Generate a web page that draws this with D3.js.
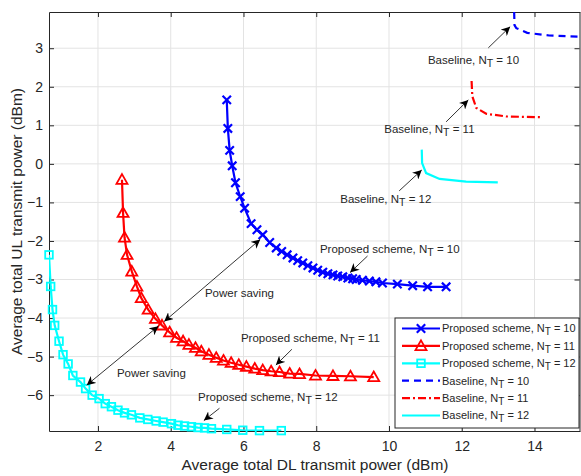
<!DOCTYPE html>
<html>
<head>
<meta charset="utf-8">
<script src="https://cdn.jsdelivr.net/npm/d3@7"></script>
<style>
  body { margin: 0; background: #fff; }
  svg text { font-family: "Liberation Sans", Arial, sans-serif; }
</style>
</head>
<body>
<div id="chart"></div>
<script>
// valeurs
const xTicks = [2, 4, 6, 8, 10, 12, 14];
const yTicks = [-6, -5, -4, -3, -2, -1, 0, 1, 2, 3];

// proposed scheme, N_T = 10
const prop10X = [5.54, 5.57, 5.62, 5.69, 5.78, 5.91, 6.03, 6.21, 6.37, 6.53, 6.72, 6.90, 7.05, 7.20, 7.36, 7.49, 7.63, 7.77, 7.91, 8.04, 8.18, 8.32, 8.46, 8.59, 8.73, 8.87, 9.00, 9.10, 9.27, 9.46, 9.64, 9.82, 10.23, 10.65, 11.06, 11.57];
const prop10Y = [1.66, 0.92, 0.35, -0.05, -0.49, -0.85, -1.15, -1.55, -1.71, -1.84, -2.04, -2.18, -2.27, -2.36, -2.44, -2.51, -2.57, -2.64, -2.70, -2.76, -2.81, -2.85, -2.88, -2.91, -2.93, -2.96, -2.98, -3.00, -3.02, -3.04, -3.06, -3.09, -3.12, -3.16, -3.19, -3.19];
// proposed scheme, N_T = 11
const prop11X = [2.66, 2.69, 2.73, 2.80, 2.93, 3.07, 3.19, 3.38, 3.58, 3.76, 3.97, 4.16, 4.34, 4.50, 4.68, 4.84, 5.05, 5.25, 5.45, 5.66, 5.87, 6.08, 6.31, 6.53, 6.76, 6.99, 7.27, 7.54, 7.98, 8.46, 8.94, 9.58];
const prop11Y = [-0.41, -1.27, -1.91, -2.36, -2.79, -3.18, -3.48, -3.78, -4.02, -4.19, -4.37, -4.51, -4.60, -4.69, -4.77, -4.86, -4.95, -5.03, -5.10, -5.16, -5.21, -5.26, -5.31, -5.35, -5.38, -5.40, -5.44, -5.45, -5.49, -5.50, -5.51, -5.53];
// proposed scheme, N_T = 12
const prop12X = [0.654, 0.70, 0.75, 0.81, 0.93, 1.04, 1.18, 1.31, 1.52, 1.66, 1.84, 2.03, 2.20, 2.37, 2.55, 2.73, 2.92, 3.15, 3.37, 3.60, 3.79, 4.02, 4.20, 4.38, 4.57, 4.75, 4.93, 5.12, 5.54, 5.98, 6.44, 7.04];
const prop12Y = [-2.36, -3.18, -3.78, -4.19, -4.60, -4.95, -5.19, -5.49, -5.66, -5.83, -6.00, -6.09, -6.22, -6.30, -6.39, -6.46, -6.51, -6.59, -6.63, -6.67, -6.70, -6.74, -6.78, -6.80, -6.82, -6.84, -6.85, -6.87, -6.89, -6.91, -6.92, -6.92];

// baselines
const base10X = [13.44, 13.45, 13.50, 13.80, 14.40, 15.25];
const base10Y = [3.94, 3.60, 3.52, 3.40, 3.33, 3.30];
const base11X = [12.27, 12.29, 12.40, 12.67, 13.22, 14.18];
const base11Y = [2.15, 1.75, 1.45, 1.30, 1.23, 1.21];
const base12X = [10.90, 10.91, 11.02, 11.39, 12.12, 12.99];
const base12Y = [0.37, 0.02, -0.24, -0.39, -0.46, -0.48];

const width = 581, height = 476;
const margin = { left: 49, right: 1, top: 12, bottom: 45 };

const x = d3.scaleLinear().domain([0.654, 15.25]).range([margin.left, width - margin.right]);
const y = d3.scaleLinear().domain([-6.93, 3.94]).range([height - margin.bottom, margin.top]);

const svg = d3.select("#chart").append("svg").attr("width", width).attr("height", height);

svg.append("defs").append("clipPath").attr("id", "clip")
  .append("rect").attr("x", margin.left).attr("y", margin.top)
  .attr("width", x.range()[1] - margin.left).attr("height", y.range()[0] - margin.top);

// pointe de fleche
const defs = svg.select("defs");
defs.append("marker").attr("id", "head").attr("viewBox", "0 0 10 10")
  .attr("refX", 10).attr("refY", 5).attr("markerWidth", 9).attr("markerHeight", 9)
  .attr("markerUnits", "userSpaceOnUse").attr("orient", "auto-start-reverse")
  .append("path").attr("d", "M0,0 L10,5 L0,10 L3,5 Z").attr("fill", "#000");

// grille
const grid = svg.append("g");
grid.selectAll(".gx").data(xTicks).enter().append("line")
  .attr("x1", d => x(d)).attr("x2", d => x(d))
  .attr("y1", y.range()[1]).attr("y2", y.range()[0])
  .attr("stroke", "#e3e3e3").attr("stroke-width", 1);
grid.selectAll(".gy").data(yTicks).enter().append("line")
  .attr("x1", x.range()[0]).attr("x2", x.range()[1])
  .attr("y1", d => y(d)).attr("y2", d => y(d))
  .attr("stroke", "#e3e3e3").attr("stroke-width", 1);

// axes (ticks vers l'interieur, style matlab)
const tickLen = 5;
const axB = svg.append("g").attr("transform", `translate(0,${y.range()[0]})`)
  .call(d3.axisBottom(x).tickValues(xTicks).tickSizeInner(-tickLen).tickSizeOuter(0).tickPadding(10));
const axT = svg.append("g").attr("transform", `translate(0,${y.range()[1]})`)
  .call(d3.axisTop(x).tickValues(xTicks).tickSizeInner(-tickLen).tickSizeOuter(0).tickFormat(""));
const axL = svg.append("g").attr("transform", `translate(${x.range()[0]},0)`)
  .call(d3.axisLeft(y).tickValues(yTicks).tickSizeInner(-tickLen).tickSizeOuter(0).tickPadding(6));
const axR = svg.append("g").attr("transform", `translate(${x.range()[1] - 0.5},0)`)
  .call(d3.axisRight(y).tickValues(yTicks).tickSizeInner(-tickLen).tickSizeOuter(0).tickFormat(""));
[axB, axT, axL, axR].forEach(a => {
  a.select(".domain").attr("stroke", "#262626").attr("stroke-width", 1);
  a.selectAll(".tick line").attr("stroke", "#262626");
  a.selectAll("text").attr("fill", "#262626").style("font-size", "14px");
});

// labels des axes
svg.append("text").attr("x", (x.range()[0] + x.range()[1]) / 2 + 0.5).attr("y", 470)
  .attr("text-anchor", "middle").attr("fill", "#262626").style("font-size", "15.5px")
  .text("Average total DL transmit power (dBm)");
svg.append("text").attr("transform", `translate(22,${(y.range()[0] + y.range()[1]) / 2}) rotate(-90)`)
  .attr("text-anchor", "middle").attr("fill", "#262626").style("font-size", "15.5px")
  .text("Average total UL transmit power (dBm)");

const plot = svg.append("g").attr("clip-path", "url(#clip)");

function toPts(xs, ys) {
  return xs.map((v, i) => [v, ys[i]]);
}
const line = d3.line().x(d => x(d[0])).y(d => y(d[1]));

const series = [
  { pts: toPts(prop10X, prop10Y), color: "#0000ff", dash: null, marker: "x", label: "Proposed scheme, N", nt: "10" },
  { pts: toPts(prop11X, prop11Y), color: "#ff0000", dash: null, marker: "tri", label: "Proposed scheme, N", nt: "11" },
  { pts: toPts(prop12X, prop12Y), color: "#00ffff", dash: null, marker: "sq", label: "Proposed scheme, N", nt: "12" },
  { pts: toPts(base10X, base10Y), color: "#0000ff", dash: "7,5", marker: null, label: "Baseline, N", nt: "10" },
  { pts: toPts(base11X, base11Y), color: "#ff0000", dash: "8,3,2,3", marker: null, label: "Baseline, N", nt: "11" },
  { pts: toPts(base12X, base12Y), color: "#00ffff", dash: null, marker: null, label: "Baseline, N", nt: "12" }
];

function drawMarker(g, type, cx, cy, color) {
  if (type === "x") {
    const s = 4.2;
    g.append("path").attr("d", `M${cx - s},${cy - s}L${cx + s},${cy + s}M${cx - s},${cy + s}L${cx + s},${cy - s}`)
      .attr("stroke", color).attr("stroke-width", 2.2).attr("fill", "none");
  } else if (type === "tri") {
    const s = 5.5;
    g.append("path").attr("d", `M${cx},${cy - s}L${cx + s},${cy + s * 0.75}L${cx - s},${cy + s * 0.75}Z`)
      .attr("stroke", color).attr("stroke-width", 1.8).attr("fill", "none");
  } else if (type === "sq") {
    const s = 3.8;
    g.append("rect").attr("x", cx - s).attr("y", cy - s).attr("width", 2 * s).attr("height", 2 * s)
      .attr("stroke", color).attr("stroke-width", 1.8).attr("fill", "none");
  }
}

series.forEach(s => {
  plot.append("path").datum(s.pts).attr("d", line)
    .attr("fill", "none").attr("stroke", s.color).attr("stroke-width", 2.2)
    .attr("stroke-dasharray", s.dash);
});
const mk = svg.append("g");
series.forEach(s => {
  if (!s.marker) return;
  s.pts.forEach(p => drawMarker(mk, s.marker, x(p[0]), y(p[1]), s.color));
});

// annotations: texte (gauche, milieu) et fleches en unites de donnees
const annText = [
  { t: "Baseline, N", nt: "10", x: 11.07, y: 2.69 },
  { t: "Baseline, N", nt: "11", x: 9.87, y: 0.90 },
  { t: "Baseline, N", nt: "12", x: 8.66, y: -0.92 },
  { t: "Proposed scheme, N", nt: "10", x: 8.10, y: -2.22 },
  { t: "Proposed scheme, N", nt: "11", x: 5.93, y: -4.52 },
  { t: "Proposed scheme, N", nt: "12", x: 4.75, y: -6.04 },
  { t: "Power saving", nt: null, x: 4.94, y: -3.36 },
  { t: "Power saving", nt: null, x: 2.52, y: -5.43 }
];
const annArrows = [
  { x1: 12.73, y1: 3.01, x2: 13.33, y2: 3.56, both: false },
  { x1: 11.57, y1: 1.09, x2: 12.18, y2: 1.66, both: false },
  { x1: 10.28, y1: -0.70, x2: 10.90, y2: -0.16, both: false },
  { x1: 9.41, y1: -2.39, x2: 8.93, y2: -2.82, both: false },
  { x1: 7.33, y1: -4.81, x2: 6.89, y2: -5.22, both: false },
  { x1: 5.34, y1: -6.34, x2: 4.91, y2: -6.66, both: false },
  { x1: 6.46, y1: -1.96, x2: 3.82, y2: -4.09, both: true },
  { x1: 3.66, y1: -4.21, x2: 1.69, y2: -5.74, both: true }
];

function subText(g, px, py, t, nt, size, anchor) {
  const tx = g.append("text").attr("x", px).attr("y", py).attr("dy", "0.35em")
    .attr("fill", "#262626").style("font-size", size + "px").attr("text-anchor", anchor || "start");
  tx.append("tspan").text(t);
  if (nt) {
    tx.append("tspan").attr("dy", 3).style("font-size", (size - 1) + "px").text("T");
    tx.append("tspan").attr("dy", -3).text(" = " + nt);
  }
  return tx;
}

const ann = svg.append("g");
annArrows.forEach(a => {
  ann.append("line").attr("x1", x(a.x1)).attr("y1", y(a.y1)).attr("x2", x(a.x2)).attr("y2", y(a.y2))
    .attr("stroke", "#000").attr("stroke-width", 0.8)
    .attr("marker-end", "url(#head)")
    .attr("marker-start", a.both ? "url(#head)" : null);
});
annText.forEach(a => subText(ann, x(a.x), y(a.y), a.t, a.nt, 11.5));

// legende
const leg = svg.append("g");
const lx = 395, ly = 318, lw = 184, lh = 110;
leg.append("rect").attr("x", lx).attr("y", ly).attr("width", lw).attr("height", lh)
  .attr("fill", "#fff").attr("stroke", "#262626").attr("stroke-width", 1);
series.forEach((s, i) => {
  const cy = ly + 10.5 + i * 17.4;
  leg.append("line").attr("x1", lx + 7).attr("x2", lx + 45).attr("y1", cy).attr("y2", cy)
    .attr("stroke", s.color).attr("stroke-width", 2.2).attr("stroke-dasharray", s.dash);
  if (s.marker) drawMarker(leg, s.marker, lx + 26, cy, s.color);
  subText(leg, lx + 47, cy, s.label, s.nt, 11);
});
</script>
</body>
</html>
